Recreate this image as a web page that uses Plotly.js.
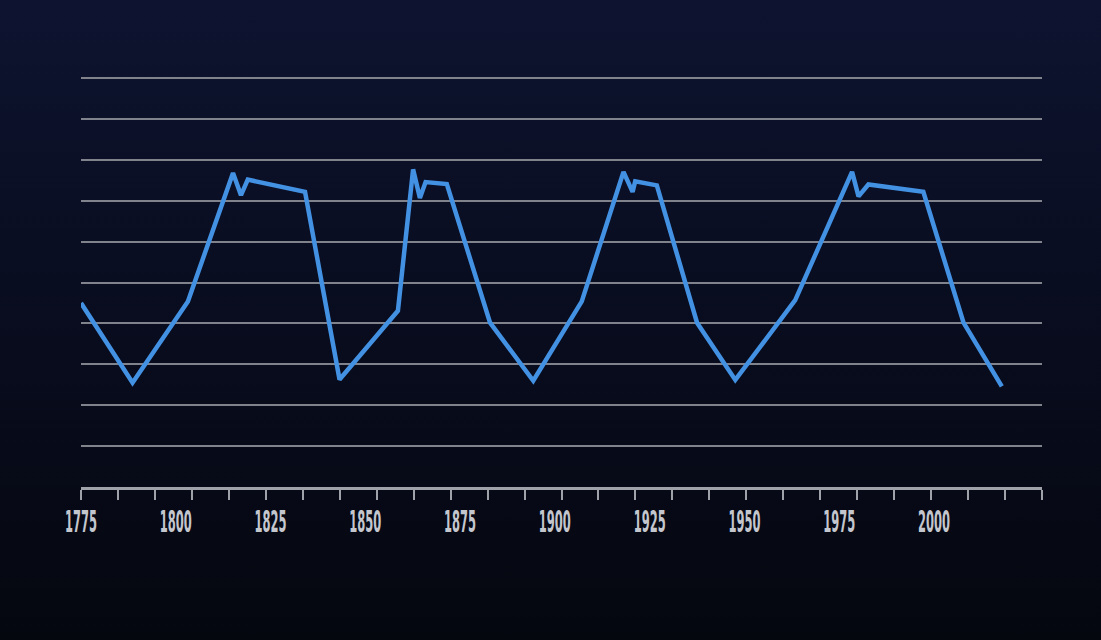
<!DOCTYPE html>
<html>
<head>
<meta charset="utf-8">
<script src="https://cdn.plot.ly/plotly-3.0.1.min.js"></script>
<style>
  html, body { margin: 0; padding: 0; width: 1101px; height: 640px; overflow: hidden;
    background: linear-gradient(180deg, #0e1430 0%, #090d20 45%, #05070f 100%); }
  #chart { width: 1101px; height: 640px; }
</style>
</head>
<body>
<div id="chart"></div>
<script>
// Data
const years = [1775, 1788.6, 1803.2, 1815.1, 1817.2, 1819.0, 1834.1, 1843.2, 1858.6, 1862.6, 1864.4, 1865.9,
  1871.5, 1882.9, 1894.3, 1907.1, 1918.1, 1920.5, 1921.2, 1926.9, 1937.5, 1947.6, 1963.4, 1978.4,
  1980.1, 1982.7, 1997.2, 2007.8, 2017.9];
const values = [45.0, 25.5, 45.4, 76.8, 71.4, 75.2, 72.2, 26.3, 43.1, 77.7, 70.7, 74.6,
  74.1, 40.2, 26.0, 45.4, 77.1, 72.2, 74.8, 73.8, 40.2, 26.2, 45.7, 77.1,
  71.1, 74.0, 72.2, 40.2, 24.6];
const tickYears = [1775, 1800, 1825, 1850, 1875, 1900, 1925, 1950, 1975, 2000];
const tickLabels = ["1775", "1800", "1825", "1850", "1875", "1900", "1925", "1950", "1975", "2000"];

const trace = {
  x: years, y: values, type: 'scatter', mode: 'lines',
  line: { color: '#4391e3', width: 4.5, shape: 'linear' },
  hoverinfo: 'skip'
};

const layout = {
  width: 1101, height: 640,
  margin: { l: 81, r: 59, t: 77, b: 153 },
  paper_bgcolor: 'rgba(0,0,0,0)',
  plot_bgcolor: 'rgba(0,0,0,0)',
  showlegend: false,
  xaxis: {
    range: [1775, 2028.5],
    tickmode: 'array', tickvals: tickYears, ticktext: tickLabels,
    ticks: '', showgrid: false, zeroline: false,
    showline: true, linecolor: '#a0a2aa', linewidth: 2.5,
    ticklabelstandoff: 5,
    tickfont: { family: '"Liberation Sans Narrow", "DejaVu Sans Condensed", "DejaVu Sans", sans-serif', size: 31, color: '#c4c6ce', weight: 'bold' },
    minor: { tick0: 1775, dtick: 9.75, ticks: 'outside', ticklen: 10, tickwidth: 2, tickcolor: '#a0a2aa', showgrid: false }
  },
  yaxis: {
    range: [0, 100.3], dtick: 10, tick0: 0,
    showticklabels: false, ticks: '',
    showgrid: true, gridcolor: '#80828c', gridwidth: 2,
    zeroline: false, showline: false
  }
};

Plotly.newPlot('chart', [trace], layout, { displayModeBar: false, staticPlot: true }).then(function (gd) {
  // compress the year labels horizontally to mimic the condensed display face
  gd.querySelectorAll('.xtick text').forEach(function (t) {
    t.setAttribute('textLength', '32');
    t.setAttribute('lengthAdjust', 'spacingAndGlyphs');
  });
});
</script>
</body>
</html>
